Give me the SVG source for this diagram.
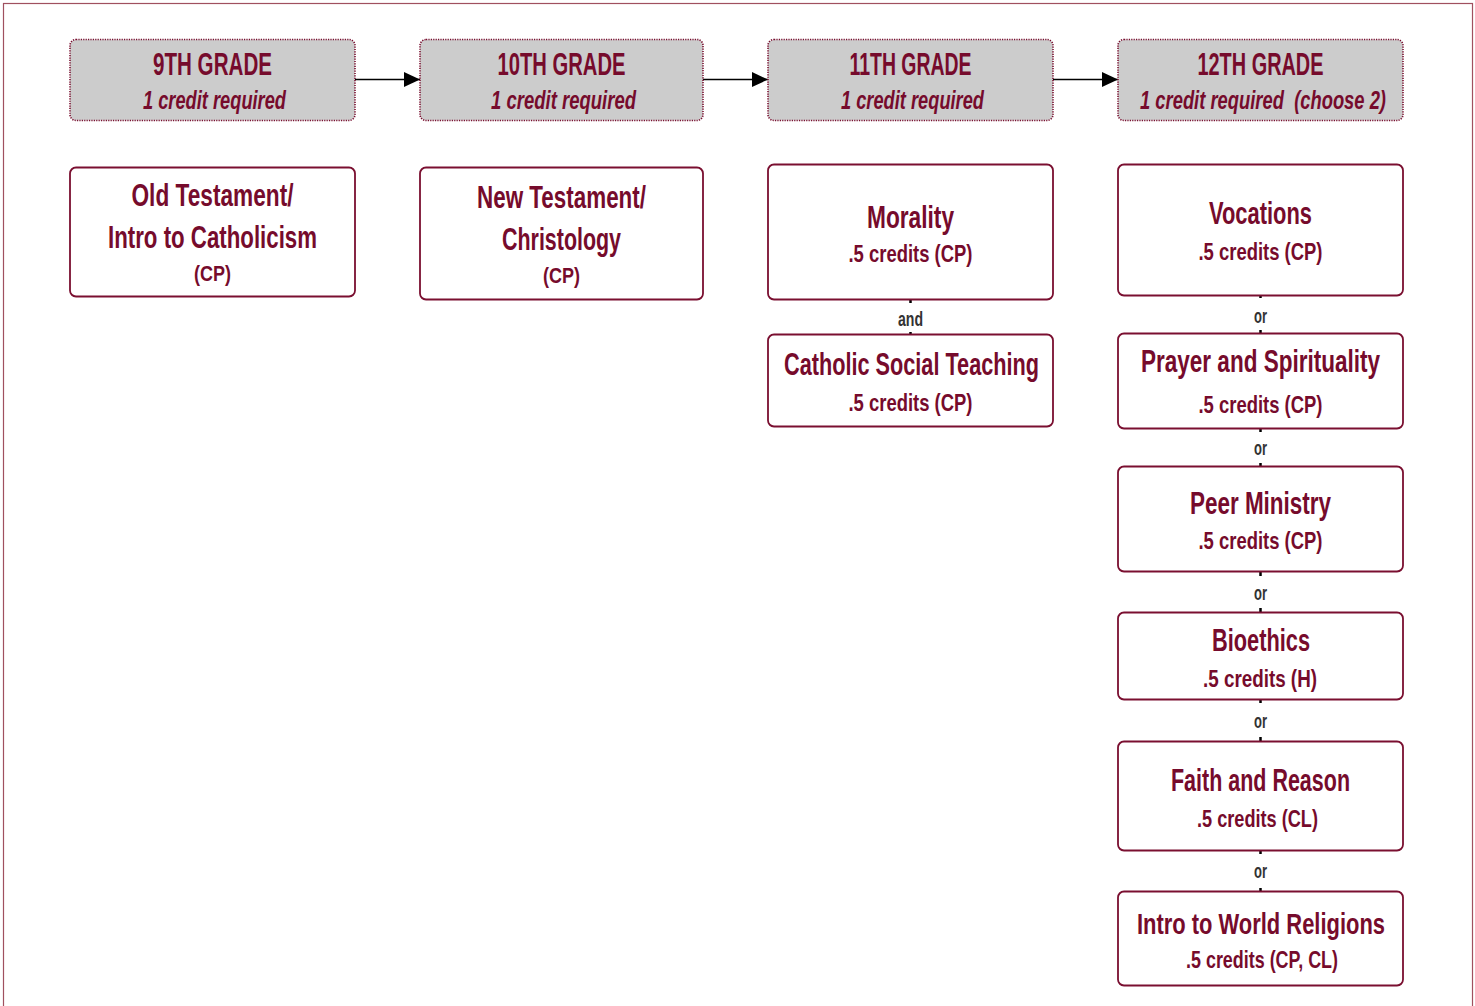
<svg xmlns="http://www.w3.org/2000/svg" width="1475" height="1006" viewBox="0 0 1475 1006">
<style>
text{font-family:"Liberation Sans Narrow","Liberation Sans","DejaVu Sans Condensed",sans-serif;text-anchor:middle;fill:#760b2c;font-weight:bold;}
.frame{fill:none;stroke:#a0505f;stroke-width:1.2;}
.hdr{fill:#cccccc;stroke:#7a0f30;stroke-width:1.6;stroke-dasharray:1.2 1.2;}
.box{fill:#ffffff;stroke:#7a0f30;stroke-width:1.8;}
.t{font-size:31px;}
.s{font-size:24px;}
.hi{font-size:25px;font-style:italic;}
.lbl{font-size:21px;fill:#333333;}
.lblbg{fill:#ffffff;}
.conn{stroke:#000000;stroke-width:2.5;fill:none;}
.arr{stroke:#000000;stroke-width:1.6;fill:none;}
</style>
<defs>
<marker id="ah" markerWidth="16" markerHeight="15" refX="16" refY="7.5" orient="auto" markerUnits="userSpaceOnUse" viewBox="0 0 16 15">
<path d="M0,0 L16,7.5 L0,15 z" fill="#000000"/>
</marker>
</defs>
<rect class="frame" x="3.5" y="3.5" width="1469" height="1012"/>

<g id="connectors">
<path class="arr" d="M355,79.5 H420" marker-end="url(#ah)"/>
<path class="arr" d="M703,79.5 H768" marker-end="url(#ah)"/>
<path class="arr" d="M1053,79.5 H1118" marker-end="url(#ah)"/>

<g id="c-mor-cst">
<line class="conn" x1="910.5" y1="300" x2="910.5" y2="335"/>
<rect class="lblbg" x="893" y="303" width="35" height="29"/>
<text class="lbl" x="910.5" y="326" textLength="25" lengthAdjust="spacingAndGlyphs">and</text>
</g>
<g id="c-voc-pra">
<line class="conn" x1="1260.5" y1="295" x2="1260.5" y2="334"/>
<rect class="lblbg" x="1245" y="298" width="31" height="32"/>
<text class="lbl" x="1260.5" y="323" textLength="13" lengthAdjust="spacingAndGlyphs">or</text>
</g>
<g id="c-pra-peer">
<line class="conn" x1="1260.5" y1="429" x2="1260.5" y2="466"/>
<rect class="lblbg" x="1245" y="432" width="31" height="31"/>
<text class="lbl" x="1260.5" y="455" textLength="13" lengthAdjust="spacingAndGlyphs">or</text>
</g>
<g id="c-peer-bio">
<line class="conn" x1="1260.5" y1="572" x2="1260.5" y2="612"/>
<rect class="lblbg" x="1245" y="576" width="31" height="32"/>
<text class="lbl" x="1260.5" y="600" textLength="13" lengthAdjust="spacingAndGlyphs">or</text>
</g>
<g id="c-bio-faith">
<line class="conn" x1="1260.5" y1="699" x2="1260.5" y2="741"/>
<rect class="lblbg" x="1245" y="703" width="31" height="34"/>
<text class="lbl" x="1260.5" y="728" textLength="13" lengthAdjust="spacingAndGlyphs">or</text>
</g>
<g id="c-faith-world">
<line class="conn" x1="1260.5" y1="850" x2="1260.5" y2="892"/>
<rect class="lblbg" x="1245" y="854" width="31" height="34"/>
<text class="lbl" x="1260.5" y="878" textLength="13" lengthAdjust="spacingAndGlyphs">or</text>
</g>
</g>

<g id="grade9">
<rect class="hdr" x="70" y="39.5" width="285" height="81" rx="6"/>
<text class="t" x="212.5" y="75" textLength="119" lengthAdjust="spacingAndGlyphs">9TH GRADE</text>
<text class="hi" x="214.5" y="109" textLength="143" lengthAdjust="spacingAndGlyphs">1 credit required</text>
</g>
<g id="grade10">
<rect class="hdr" x="420" y="39.5" width="283" height="81" rx="6"/>
<text class="t" x="561.5" y="75" textLength="128" lengthAdjust="spacingAndGlyphs">10TH GRADE</text>
<text class="hi" x="563.5" y="109" textLength="145" lengthAdjust="spacingAndGlyphs">1 credit required</text>
</g>
<g id="grade11">
<rect class="hdr" x="768" y="39.5" width="285" height="81" rx="6"/>
<text class="t" x="910.5" y="75" textLength="122" lengthAdjust="spacingAndGlyphs">11TH GRADE</text>
<text class="hi" x="912.5" y="109" textLength="143" lengthAdjust="spacingAndGlyphs">1 credit required</text>
</g>
<g id="grade12">
<rect class="hdr" x="1118" y="39.5" width="285" height="81" rx="6"/>
<text class="t" x="1260.5" y="75" textLength="126" lengthAdjust="spacingAndGlyphs">12TH GRADE</text>
<text class="hi" x="1263" y="109" textLength="246" lengthAdjust="spacingAndGlyphs" xml:space="preserve">1 credit required  (choose 2)</text>
</g>

<g id="old-testament">
<rect class="box" x="70" y="167.5" width="285" height="129" rx="6"/>
<text class="t" x="212.5" y="206" textLength="162" lengthAdjust="spacingAndGlyphs">Old Testament/</text>
<text class="t" x="212.5" y="248" textLength="209" lengthAdjust="spacingAndGlyphs">Intro to Catholicism</text>
<text class="s" x="212.5" y="281" style="font-size:22px" textLength="37" lengthAdjust="spacingAndGlyphs">(CP)</text>
</g>
<g id="new-testament">
<rect class="box" x="420" y="167.5" width="283" height="132" rx="6"/>
<text class="t" x="561.5" y="208" textLength="169" lengthAdjust="spacingAndGlyphs">New Testament/</text>
<text class="t" x="561.5" y="250" textLength="119" lengthAdjust="spacingAndGlyphs">Christology</text>
<text class="s" x="561.5" y="283" style="font-size:22px" textLength="37" lengthAdjust="spacingAndGlyphs">(CP)</text>
</g>
<g id="morality">
<rect class="box" x="768" y="164.5" width="285" height="135" rx="6"/>
<text class="t" x="910.5" y="228" textLength="87" lengthAdjust="spacingAndGlyphs">Morality</text>
<text class="s" x="910.5" y="262" textLength="124" lengthAdjust="spacingAndGlyphs">.5 credits (CP)</text>
</g>
<g id="catholic-social-teaching">
<rect class="box" x="768" y="334.5" width="285" height="92" rx="6"/>
<text class="t" x="911.5" y="375" textLength="255" lengthAdjust="spacingAndGlyphs">Catholic Social Teaching</text>
<text class="s" x="910.5" y="411" textLength="124" lengthAdjust="spacingAndGlyphs">.5 credits (CP)</text>
</g>
<g id="vocations">
<rect class="box" x="1118" y="164.5" width="285" height="131" rx="6"/>
<text class="t" x="1260.5" y="224" textLength="103" lengthAdjust="spacingAndGlyphs">Vocations</text>
<text class="s" x="1260.5" y="260" textLength="124" lengthAdjust="spacingAndGlyphs">.5 credits (CP)</text>
</g>
<g id="prayer-spirituality">
<rect class="box" x="1118" y="333.5" width="285" height="95" rx="6"/>
<text class="t" x="1260.5" y="372" textLength="239" lengthAdjust="spacingAndGlyphs">Prayer and Spirituality</text>
<text class="s" x="1260.5" y="413" textLength="124" lengthAdjust="spacingAndGlyphs">.5 credits (CP)</text>
</g>
<g id="peer-ministry">
<rect class="box" x="1118" y="466.5" width="285" height="105" rx="6"/>
<text class="t" x="1260.5" y="514" textLength="141" lengthAdjust="spacingAndGlyphs">Peer Ministry</text>
<text class="s" x="1260.5" y="549" textLength="124" lengthAdjust="spacingAndGlyphs">.5 credits (CP)</text>
</g>
<g id="bioethics">
<rect class="box" x="1118" y="612.5" width="285" height="87" rx="6"/>
<text class="t" x="1261" y="651" textLength="98" lengthAdjust="spacingAndGlyphs">Bioethics</text>
<text class="s" x="1260" y="687" textLength="114" lengthAdjust="spacingAndGlyphs">.5 credits (H)</text>
</g>
<g id="faith-reason">
<rect class="box" x="1118" y="741.5" width="285" height="109" rx="6"/>
<text class="t" x="1260.5" y="791" textLength="179" lengthAdjust="spacingAndGlyphs">Faith and Reason</text>
<text class="s" x="1257.5" y="827" textLength="121" lengthAdjust="spacingAndGlyphs">.5 credits (CL)</text>
</g>
<g id="world-religions">
<rect class="box" x="1118" y="891.5" width="285" height="94" rx="6"/>
<text class="t" x="1261" y="934" style="font-size:29px" textLength="248" lengthAdjust="spacingAndGlyphs">Intro to World Religions</text>
<text class="s" x="1262" y="968" textLength="152" lengthAdjust="spacingAndGlyphs">.5 credits (CP, CL)</text>
</g>
</svg>
